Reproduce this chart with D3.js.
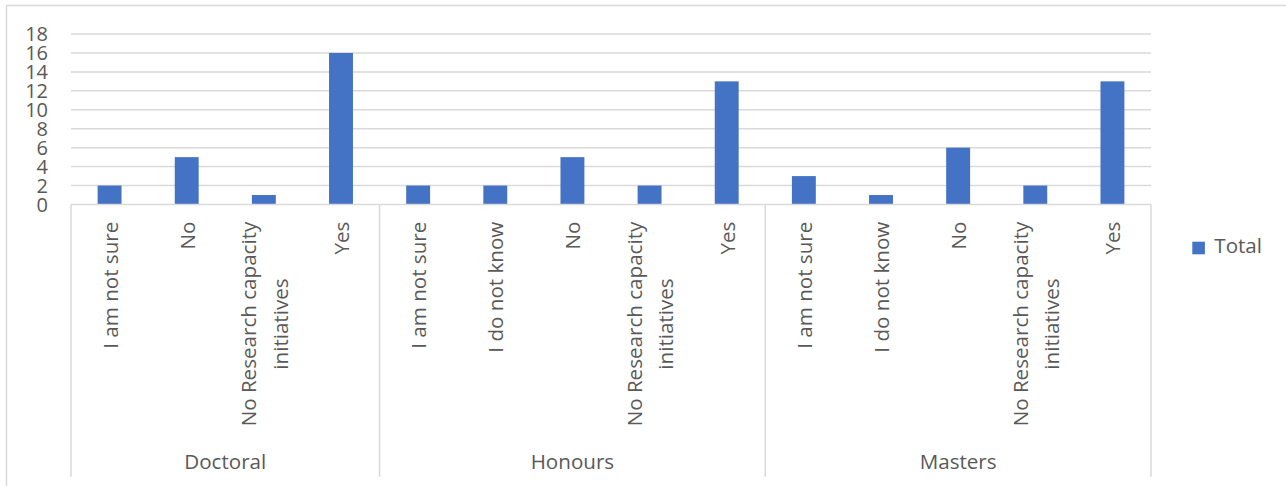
<!DOCTYPE html>
<html>
<head>
<meta charset="utf-8">
<script src="https://cdn.jsdelivr.net/npm/d3@7"></script>
<style>
  html, body { margin: 0; padding: 0; background: #fff; }
  svg { display: block; }
  text { font-family: "Open Sans", "Noto Sans", sans-serif; fill: #595959; }
</style>
</head>
<body>
<svg id="chart" width="1286" height="486"></svg>
<script>
// Survey responses grouped by qualification level
const groups = ["Doctoral", "Honours", "Masters"];
const doctoralAnswers = ["I am not sure", "No", "No Research capacity initiatives", "Yes"];
const doctoralTotals  = [2, 5, 1, 16];
const honoursAnswers  = ["I am not sure", "I do not know", "No", "No Research capacity initiatives", "Yes"];
const honoursTotals   = [2, 2, 5, 2, 13];
const mastersAnswers  = ["I am not sure", "I do not know", "No", "No Research capacity initiatives", "Yes"];
const mastersTotals   = [3, 1, 6, 2, 13];
const yTicks = [0, 2, 4, 6, 8, 10, 12, 14, 16, 18];
const seriesName = "Total";

// Line breaks used when an answer label is too long for one line
const wrappedLabels = {
  "No Research capacity initiatives": ["No Research capacity", "initiatives"]
};

const answersByGroup = [doctoralAnswers, honoursAnswers, mastersAnswers];
const totalsByGroup  = [doctoralTotals, honoursTotals, mastersTotals];

const rows = [];
groups.forEach((g, gi) => {
  answersByGroup[gi].forEach((a, ai) => {
    rows.push({ group: g, answer: a, value: totalsByGroup[gi][ai], key: g + "|" + a });
  });
});

const svg = d3.select("#chart");
const barColor = "#4472c4";
const lineColor = "#d9d9d9";
const tickFont = "20px";
const labelFont = "20.6px";

const plot = { left: 71, right: 1151, top: 34, bottom: 204.5 };

const x = d3.scaleBand()
  .domain(rows.map(d => d.key))
  .range([plot.left, plot.right])
  .paddingInner(0.69)
  .paddingOuter(0.345);

const y = d3.scaleLinear()
  .domain([0, 18])
  .range([plot.bottom, plot.top]);

// Chart area border (top and left edges visible)
svg.append("path")
  .attr("d", "M6.5,486 L6.5,5.5 L1286,5.5")
  .attr("fill", "none")
  .attr("stroke", lineColor)
  .attr("stroke-width", 1.5);

// Horizontal gridlines
svg.append("g")
  .selectAll("line")
  .data(yTicks.filter(t => t > 0))
  .join("line")
  .attr("x1", plot.left)
  .attr("x2", plot.right)
  .attr("y1", d => y(d))
  .attr("y2", d => y(d))
  .attr("stroke", lineColor)
  .attr("stroke-width", 1.5);

// Y axis tick labels
svg.append("g")
  .selectAll("text")
  .data(yTicks)
  .join("text")
  .attr("x", 48)
  .attr("y", d => y(d))
  .attr("dy", "0.36em")
  .attr("text-anchor", "end")
  .style("font-size", tickFont)
  .text(d => d);

// Bars
svg.append("g")
  .selectAll("rect")
  .data(rows)
  .join("rect")
  .attr("x", d => x(d.key))
  .attr("width", x.bandwidth())
  .attr("y", d => y(d.value))
  .attr("height", d => y(0) - y(d.value))
  .attr("fill", barColor);

// Category axis line
svg.append("line")
  .attr("x1", plot.left)
  .attr("x2", plot.right)
  .attr("y1", y(0))
  .attr("y2", y(0))
  .attr("stroke", lineColor)
  .attr("stroke-width", 1.5);

// Group separators of the two-level category axis
const step = x.step();
const bounds = [plot.left];
let acc = 0;
answersByGroup.forEach(list => {
  acc += list.length;
  bounds.push(plot.left + acc * step);
});
svg.append("g")
  .selectAll("line")
  .data(bounds)
  .join("line")
  .attr("x1", d => d)
  .attr("x2", d => d)
  .attr("y1", y(0))
  .attr("y2", 476.7)
  .attr("stroke", lineColor)
  .attr("stroke-width", 1.5);

// Rotated answer labels, lines centred on each other, block ending at the axis
const labelTop = 221.7;
const lineGap = 31.5;
const catLabels = svg.append("g");
rows.forEach(d => {
  const lines = wrappedLabels[d.answer] || [d.answer];
  const cx = x(d.key) + x.bandwidth() / 2;
  const g = catLabels.append("g");
  const texts = lines.map((ln, i) => {
    const bx = cx + 8 + (i - (lines.length - 1) / 2) * lineGap;
    return g.append("text")
      .attr("text-anchor", "middle")
      .style("font-size", labelFont)
      .attr("data-bx", bx)
      .text(ln);
  });
  const maxW = d3.max(texts, t => t.node().getComputedTextLength());
  texts.forEach(t => {
    const bx = +t.attr("data-bx");
    const cy = labelTop + maxW / 2;
    t.attr("transform", `translate(${bx},${cy}) rotate(-90)`);
  });
});

// Group labels
svg.append("g")
  .selectAll("text")
  .data(groups)
  .join("text")
  .attr("x", (d, i) => (bounds[i] + bounds[i + 1]) / 2)
  .attr("y", 469.3)
  .attr("text-anchor", "middle")
  .style("font-size", labelFont)
  .text(d => d);

// Legend
const legend = svg.append("g");
legend.append("rect")
  .attr("x", 1192.3)
  .attr("y", 241.7)
  .attr("width", 12.6)
  .attr("height", 12.6)
  .attr("fill", barColor);
legend.append("text")
  .attr("x", 1214.3)
  .attr("y", 253.3)
  .style("font-size", labelFont)
  .text(seriesName);
</script>
</body>
</html>
